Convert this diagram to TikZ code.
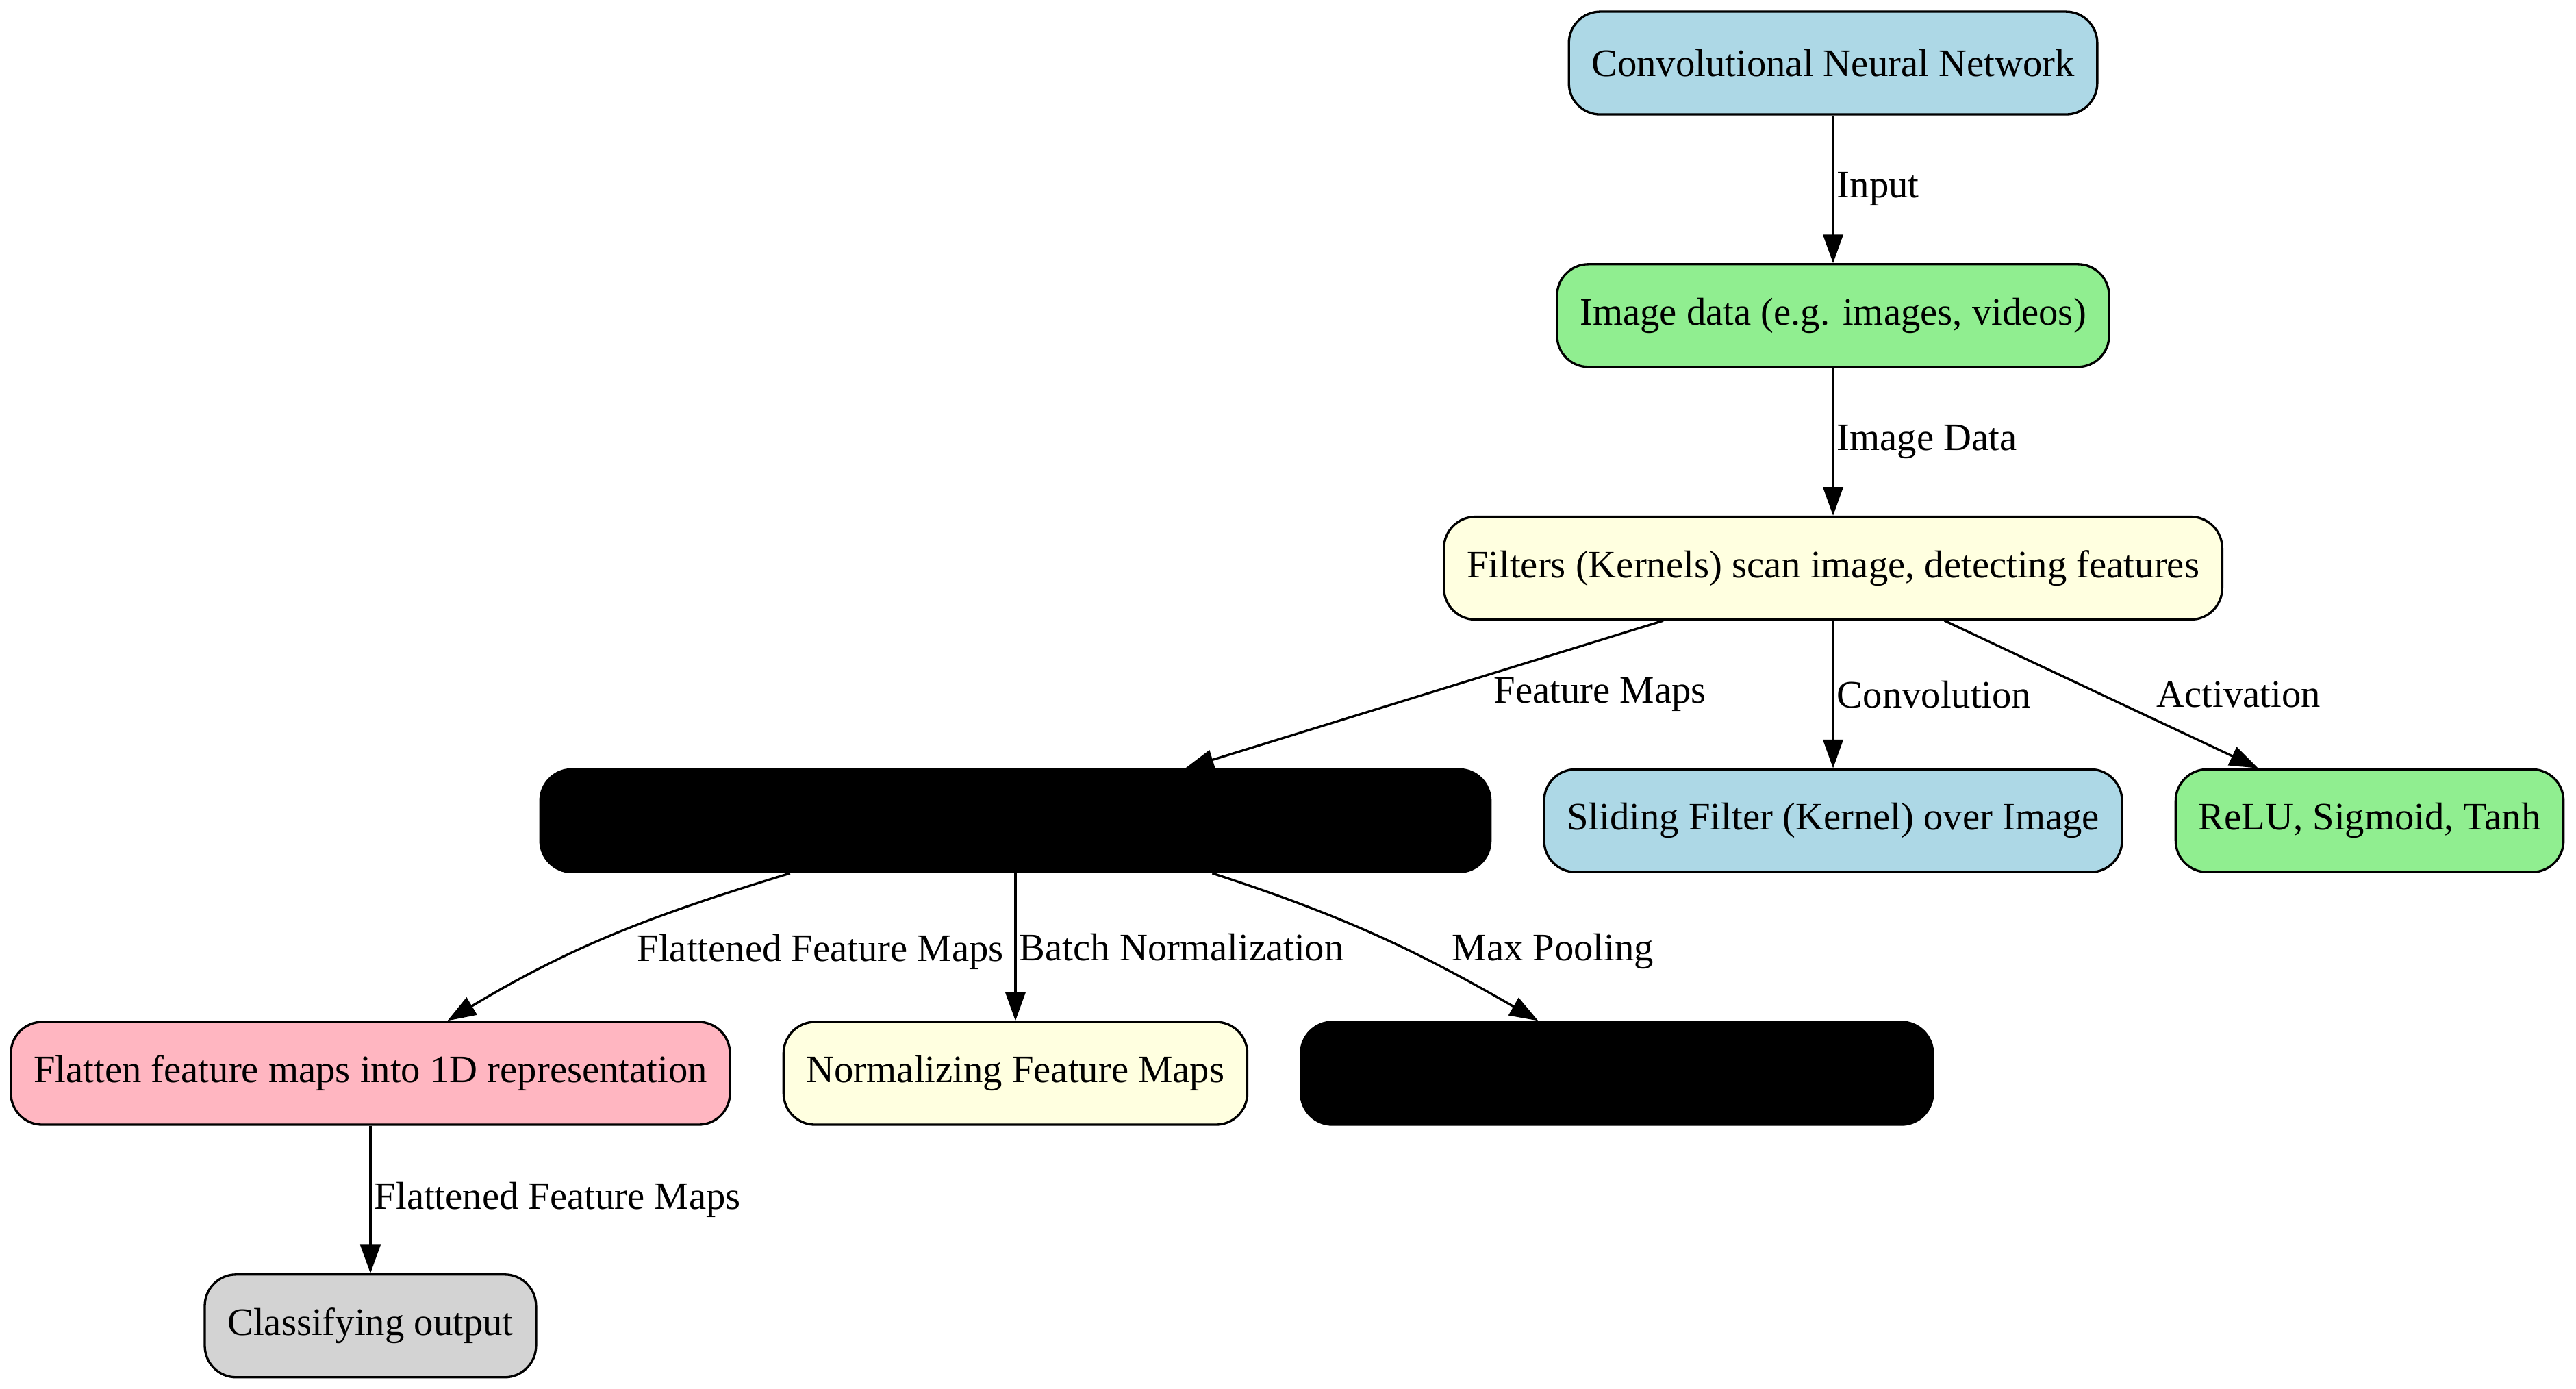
\documentclass[tikz,border=0pt]{standalone}
\usepackage{fontspec}
\setmainfont{Liberation Serif}
\usetikzlibrary{positioning,arrows.meta}

\definecolor{lblue}{HTML}{ADD8E6}
\definecolor{lgreen}{HTML}{90EE90}
\definecolor{lyellow}{HTML}{FFFFE0}
\definecolor{lpink}{HTML}{FFB6C1}
\definecolor{lgrey}{HTML}{D3D3D3}

\begin{document}
\begin{tikzpicture}[-{Triangle[length=10pt,width=7pt]},node distance=88.5pt,line width=0.8pt,
	every node/.style={font=\fontsize{13.6pt}{16pt}\selectfont},
	box/.style={draw,rounded corners=11pt,minimum height=36pt,inner xsep=8pt},
	lbl/.style={anchor=west,inner sep=1pt}]

\useasboundingbox (0,0) rectangle (902.9pt,-486.5pt);

\node[box,fill=lblue](cnn) at (642.5pt,-22.1pt){Convolutional Neural Network};
\node[box,fill=lgreen](img)[below of=cnn]{Image data (e.g. images, videos)};
\node[box,fill=lyellow](filt)[below of=img]{Filters (Kernels) scan image, detecting features};
\node[box,fill=lblue](slide)[below of=filt]{Sliding Filter (Kernel) over Image};
\node[box,fill=lgreen](act)[right=18pt of slide]{ReLU, Sigmoid, Tanh};
\node[box,fill=black,minimum width=333pt](fmap)[left=18pt of slide]{};
\node[box,fill=lyellow](norm)[below of=fmap]{Normalizing Feature Maps};
\node[box,fill=lpink](flat)[left=18pt of norm]{Flatten feature maps into 1D representation};
\node[box,fill=black,minimum width=221.5pt](pool)[right=18pt of norm]{};
\node[box,fill=lgrey](cls)[below of=flat]{Classifying output};

\path(cnn)edge node[lbl]{Input}(img)
	(img)edge node[lbl]{Image Data}(filt)
	(filt)edge node[lbl,xshift=23pt]{Feature Maps}(fmap)
	(filt)edge node[lbl]{Convolution}(slide)
	(filt)edge node[lbl,xshift=18pt]{Activation}(act)
	([xshift=-79pt]fmap.south)edge[out=197,in=31] node[lbl,xshift=7pt,yshift=-6pt]{Flattened Feature Maps}([xshift=27pt]flat.north)
	(fmap)edge node[lbl]{Batch Normalization}(norm)
	([xshift=69pt]fmap.south)edge[out=-18,in=150] node[lbl,xshift=24pt,yshift=-5pt]{Max Pooling}([xshift=-27.6pt]pool.north)
	(flat)edge node[lbl]{Flattened Feature Maps}(cls);

\end{tikzpicture}
\end{document}
